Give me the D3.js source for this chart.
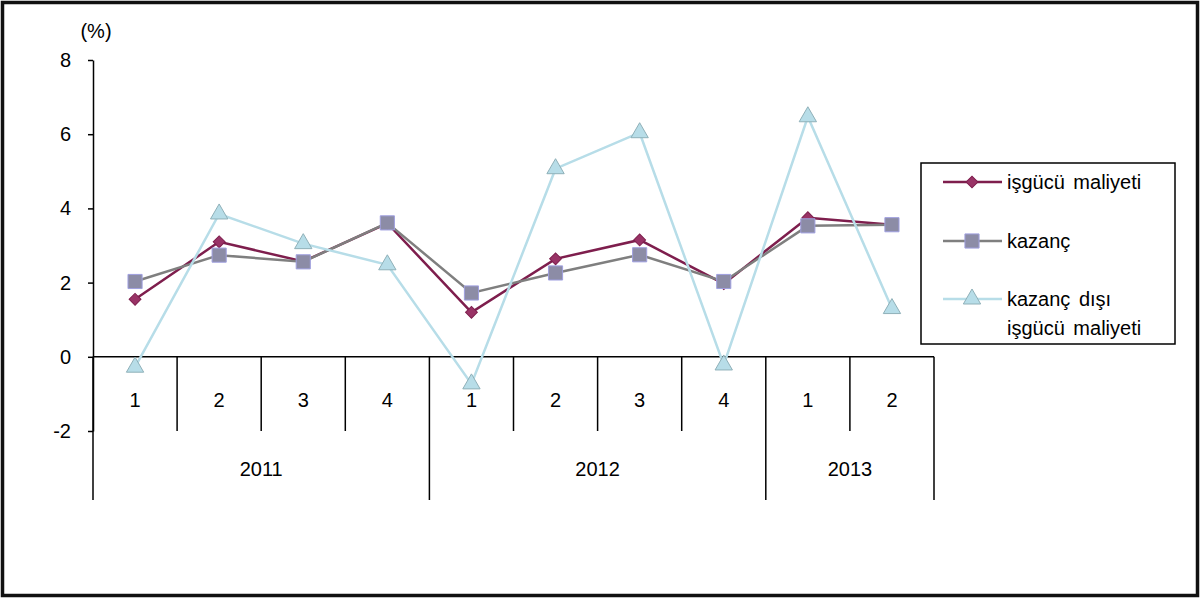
<!DOCTYPE html>
<html>
<head>
<meta charset="utf-8">
<script src="https://cdn.jsdelivr.net/npm/d3@7"></script>
<style>
  body { margin: 0; background: #fff; }
  svg { display: block; font-family: "Liberation Sans", Arial, sans-serif; }
</style>
</head>
<body>
<svg id="chart"></svg>
<script>
// quarters and years
const quarters = ['1', '2', '3', '4', '1', '2', '3', '4', '1', '2'];
const years = [
  { label: '2011', count: 4 },
  { label: '2012', count: 4 },
  { label: '2013', count: 2 }
];
const yTicks = [-2, 0, 2, 4, 6, 8];

// series values (%)
const isgucuMaliyeti = [1.55, 3.1, 2.57, 3.6, 1.2, 2.64, 3.15, 1.97, 3.75, 3.56];
const kazanc = [2.03, 2.74, 2.56, 3.61, 1.72, 2.26, 2.75, 2.03, 3.53, 3.56];
const kazancDisi = [-0.28, 3.85, 3.05, 2.48, -0.73, 5.07, 6.04, -0.22, 6.47, 1.3];

const seriesNames = ['işgücü maliyeti', 'kazanç', 'kazanç dışı\nişgücü maliyeti'];

const W = 1200, H = 598;
const svg = d3.select('#chart').attr('width', W).attr('height', H);

// outer frame
svg.append('rect')
  .attr('x', 2.5).attr('y', 2.5)
  .attr('width', W - 5).attr('height', H - 5)
  .attr('fill', '#fff').attr('stroke', '#111').attr('stroke-width', 3.5);

const left = 93, right = 934;
const x = d3.scaleBand().domain(d3.range(quarters.length)).range([left, right]);
const y = d3.scaleLinear().domain([-2, 8]).range([431, 60]);

// y axis
svg.append('g')
  .attr('transform', `translate(${left},0)`)
  .call(d3.axisLeft(y).tickValues(yTicks).tickFormat(d => String(d)).tickSize(5).tickSizeOuter(0).tickPadding(17))
  .call(g => g.select('.domain').attr('stroke', '#000').attr('stroke-width', 1.5))
  .call(g => g.selectAll('.tick line').attr('stroke', '#000').attr('stroke-width', 1.5))
  .call(g => g.selectAll('.tick text').attr('font-size', 20).attr('fill', '#000')
    .attr('font-family', '"Liberation Sans", Arial, sans-serif'));

svg.append('text')
  .attr('x', 96).attr('y', 38)
  .attr('text-anchor', 'middle')
  .attr('font-size', 20)
  .text('(%)');

// x axis at zero
const y0 = y(0);
svg.append('line')
  .attr('x1', left).attr('x2', right)
  .attr('y1', y0).attr('y2', y0)
  .attr('stroke', '#000').attr('stroke-width', 1.5);

// quarter dividers and labels
const yearStarts = [];
let acc = 0;
years.forEach(d => { yearStarts.push(acc); acc += d.count; });
yearStarts.push(acc);

d3.range(quarters.length + 1).forEach(i => {
  const xp = i < quarters.length ? x(i) : right;
  const isYear = yearStarts.includes(i);
  svg.append('line')
    .attr('x1', xp).attr('x2', xp)
    .attr('y1', y0).attr('y2', isYear ? 500 : 431)
    .attr('stroke', '#000').attr('stroke-width', 1.5);
});

svg.selectAll('.qlabel')
  .data(quarters)
  .enter()
  .append('text')
  .attr('class', 'qlabel')
  .attr('x', (d, i) => x(i) + x.bandwidth() / 2)
  .attr('y', 407)
  .attr('text-anchor', 'middle')
  .attr('font-size', 20)
  .text(d => d);

svg.selectAll('.ylabel')
  .data(years)
  .enter()
  .append('text')
  .attr('class', 'ylabel')
  .attr('x', (d, i) => (x(yearStarts[i]) + (yearStarts[i + 1] < quarters.length ? x(yearStarts[i + 1]) : right)) / 2)
  .attr('y', 476)
  .attr('text-anchor', 'middle')
  .attr('font-size', 20)
  .text(d => d.label);

// series
const cx = i => x(i) + x.bandwidth() / 2;
const line = d3.line().x((d, i) => cx(i)).y(d => y(d));

const styles = [
  { data: isgucuMaliyeti, stroke: '#7e1e4d', fill: '#993366', mStroke: '#7e1e4d', shape: d3.symbolSquare, size: 70, rot: 45 },
  { data: kazanc, stroke: '#7f7f7f', fill: '#8c8ca6', mStroke: '#a0a0e0', shape: d3.symbolSquare, size: 200, rot: 0 },
  { data: kazancDisi, stroke: '#b7dde8', fill: '#b7dde8', mStroke: '#8fb0b8', shape: d3.symbolTriangle, size: 130, rot: 0 }
];

styles.forEach(s => {
  svg.append('path')
    .datum(s.data)
    .attr('d', line)
    .attr('fill', 'none')
    .attr('stroke', s.stroke)
    .attr('stroke-width', 2.5);
  svg.selectAll(null)
    .data(s.data)
    .enter()
    .append('path')
    .attr('transform', (d, i) => `translate(${cx(i)},${y(d)}) rotate(${s.rot})`)
    .attr('d', d3.symbol().type(s.shape).size(s.size))
    .attr('fill', s.fill)
    .attr('stroke', s.mStroke)
    .attr('stroke-width', 1);
});

// legend
const lg = svg.append('g');
lg.append('rect')
  .attr('x', 921).attr('y', 163)
  .attr('width', 254).attr('height', 181)
  .attr('fill', '#fff').attr('stroke', '#000').attr('stroke-width', 1.5);

const legendY = [182, 241, 299];
styles.forEach((s, i) => {
  lg.append('line')
    .attr('x1', 943).attr('x2', 1002)
    .attr('y1', legendY[i]).attr('y2', legendY[i])
    .attr('stroke', s.stroke).attr('stroke-width', 2.5);
  lg.append('path')
    .attr('transform', `translate(972,${legendY[i]}) rotate(${s.rot})`)
    .attr('d', d3.symbol().type(s.shape).size(s.size))
    .attr('fill', s.fill)
    .attr('stroke', s.mStroke)
    .attr('stroke-width', 1);
  const t = lg.append('text')
    .attr('x', 1007).attr('y', legendY[i] + 7)
    .attr('font-size', 20)
    .attr('word-spacing', 3);
  seriesNames[i].split('\n').forEach((part, k) => {
    t.append('tspan').attr('x', 1007).attr('dy', k === 0 ? 0 : 29).text(part);
  });
});
</script>
</body>
</html>
